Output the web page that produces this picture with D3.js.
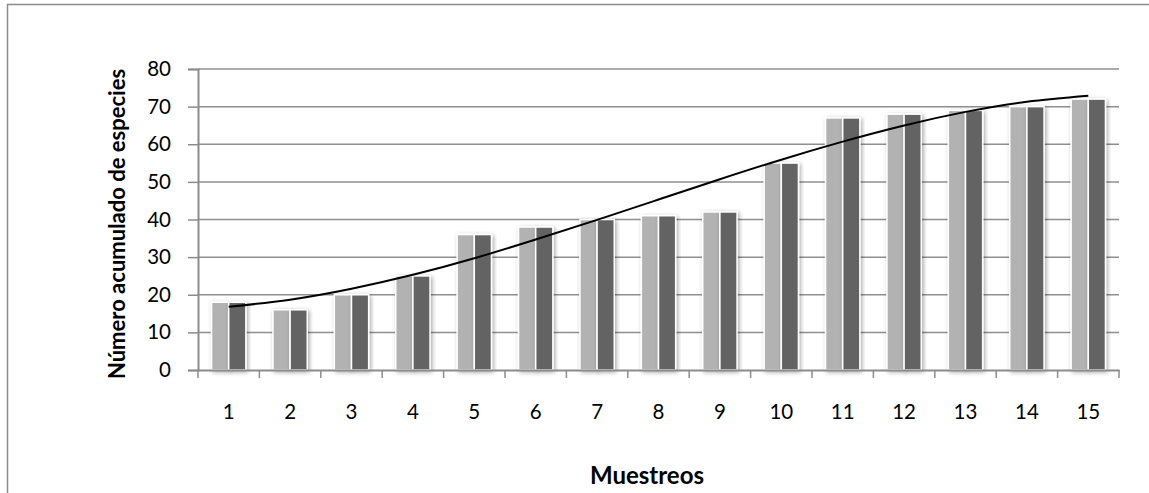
<!DOCTYPE html>
<html>
<head>
<meta charset="utf-8">
<script src="https://cdn.jsdelivr.net/npm/d3@7"></script>
<style>
    html, body { margin: 0; padding: 0; background: #fff; }
    svg { display: block; }
    text { font-family: Lato, "Open Sans", sans-serif; fill: #000; }
</style>
</head>
<body>
<div id="chart"></div>
<script>
(function () {

    var muestreos = ['1', '2', '3', '4', '5', '6', '7', '8', '9', '10', '11', '12', '13', '14', '15'];
    var serieA = [18, 16, 20, 25, 36, 38, 40, 41, 42, 55, 67, 68, 69, 70, 72];
    var serieB = [18, 16, 20, 25, 36, 38, 40, 41, 42, 55, 67, 68, 69, 70, 72];
    var tendencia = [16.8, 18.7, 21.6, 25.3, 29.7, 34.7, 39.9, 45.3, 50.7, 55.9, 60.7, 65.0, 68.6, 71.3, 72.9];
    var yTicks = [0, 10, 20, 30, 40, 50, 60, 70, 80];

    var width = 1149;
    var height = 493;
    var margin = { top: 69, right: 30, bottom: 123, left: 198 };
    var plotW = 1119 - margin.left;
    var plotH = 370 - margin.top;

    var svg = d3.select('#chart').append('svg')
        .attr('width', width)
        .attr('height', height);

    // soft shadow under the bars, like the office chart style
    var defs = svg.append('defs');
    var filter = defs.append('filter')
        .attr('id', 'sombra')
        .attr('x', '-30%').attr('y', '-10%')
        .attr('width', '160%').attr('height', '130%');
    filter.append('feDropShadow')
        .attr('dx', 1.5).attr('dy', 1.5)
        .attr('stdDeviation', 2)
        .attr('flood-color', '#000')
        .attr('flood-opacity', 0.35);

    // outer frame (right and bottom edges fall outside the picture)
    svg.append('rect')
        .attr('x', 7.5).attr('y', 4.5)
        .attr('width', width + 20).attr('height', height + 20)
        .attr('fill', 'none')
        .attr('stroke', '#8c8c8c')
        .attr('stroke-width', 1.5);

    var g = svg.append('g')
        .attr('transform', 'translate(' + margin.left + ',' + margin.top + ')');

    var x0 = d3.scaleBand()
        .domain(muestreos)
        .range([0, plotW])
        .paddingInner(0)
        .paddingOuter(0);

    var x1 = d3.scaleBand()
        .domain(['a', 'b'])
        .range([0, x0.bandwidth()])
        .paddingInner(0)
        .paddingOuter(0.79);

    var y = d3.scaleLinear()
        .domain([0, 80])
        .range([plotH, 0]);

    // gridlines
    g.append('g')
        .selectAll('line')
        .data(yTicks.slice(1))
        .enter().append('line')
            .attr('x1', 0).attr('x2', plotW)
            .attr('y1', function (d) { return y(d); })
            .attr('y2', function (d) { return y(d); })
            .attr('stroke', '#8f8f8f')
            .attr('stroke-width', 1.5);

    // y axis
    var yAxis = g.append('g')
        .call(d3.axisLeft(y).tickValues(yTicks).tickSize(10).tickPadding(17));
    yAxis.select('.domain').attr('stroke', '#8c8c8c').attr('stroke-width', 2);
    yAxis.selectAll('.tick line').attr('stroke', '#8c8c8c').attr('stroke-width', 1.5);
    yAxis.selectAll('.tick text')
        .attr('font-size', 20.5)
        .attr('font-family', 'Lato, "Open Sans", sans-serif');

    // bars
    var series = [
        { key: 'a', values: serieA, color: '#b2b2b2' },
        { key: 'b', values: serieB, color: '#636363' }
    ];

    var grupos = g.append('g')
        .selectAll('g')
        .data(muestreos)
        .enter().append('g')
            .attr('transform', function (d) { return 'translate(' + x0(d) + ',0)'; });

    grupos.selectAll('rect')
        .data(function (d, i) {
            return series.map(function (s) {
                return { key: s.key, value: s.values[i], color: s.color };
            });
        })
        .enter().append('rect')
            .attr('x', function (d) { return x1(d.key); })
            .attr('y', function (d) { return y(d.value); })
            .attr('width', x1.bandwidth())
            .attr('height', function (d) { return plotH - y(d.value); })
            .attr('fill', function (d) { return d.color; })
            .attr('stroke', '#fff')
            .attr('stroke-width', 1.5)
            .attr('filter', 'url(#sombra)');

    // x axis
    var xAxis = g.append('g')
        .attr('transform', 'translate(0,' + plotH + ')')
        .call(d3.axisBottom(x0).tickSize(0).tickPadding(34));
    xAxis.select('.domain').attr('stroke', '#8c8c8c').attr('stroke-width', 2);
    xAxis.selectAll('.tick text')
        .attr('font-size', 20.5)
        .attr('font-family', 'Lato, "Open Sans", sans-serif');

    // tick marks between the categories
    xAxis.append('g')
        .selectAll('line')
        .data(d3.range(muestreos.length + 1))
        .enter().append('line')
            .attr('x1', function (i) { return i * x0.step(); })
            .attr('x2', function (i) { return i * x0.step(); })
            .attr('y1', 0).attr('y2', 8)
            .attr('stroke', '#8c8c8c')
            .attr('stroke-width', 1.5);

    // polynomial trend line
    var linea = d3.line()
        .x(function (d, i) { return x0(muestreos[i]) + x0.bandwidth() / 2; })
        .y(function (d) { return y(d); })
        .curve(d3.curveNatural);

    g.append('path')
        .datum(tendencia)
        .attr('d', linea)
        .attr('fill', 'none')
        .attr('stroke', '#000')
        .attr('stroke-width', 2);

    // axis titles
    svg.append('text')
        .attr('x', 647)
        .attr('y', 484)
        .attr('text-anchor', 'middle')
        .attr('font-size', 24)
        .attr('font-weight', 'bold')
        .text('Muestreos');

    svg.append('text')
        .attr('transform', 'translate(125,224) rotate(-90)')
        .attr('text-anchor', 'middle')
        .attr('font-size', 22)
        .attr('font-weight', 'bold')
        .text('Número acumulado de especies');

})();
</script>
</body>
</html>
